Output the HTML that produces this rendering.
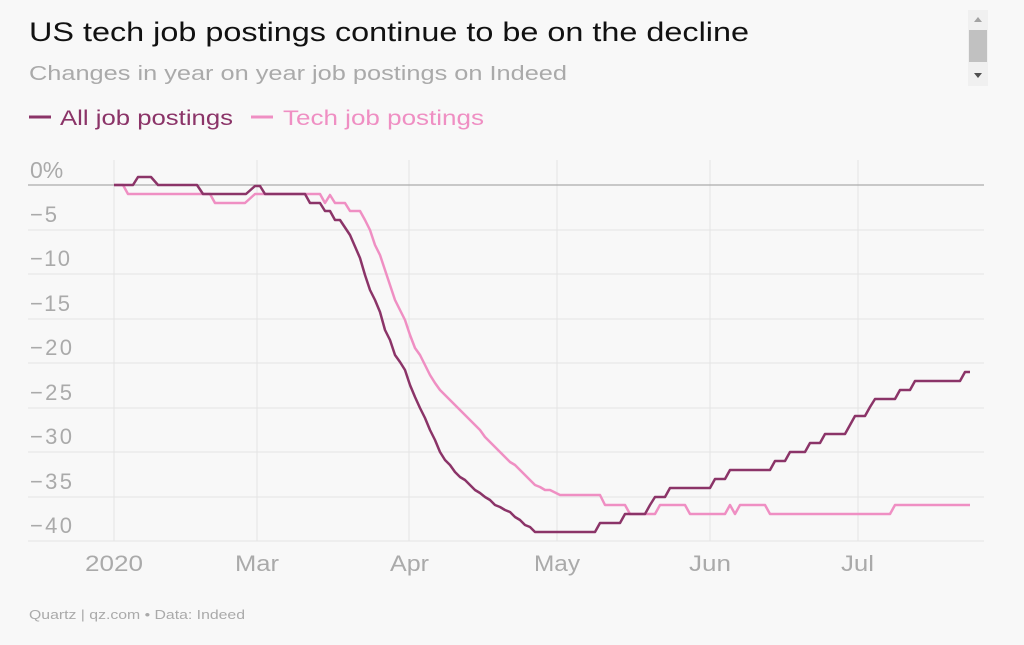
<!DOCTYPE html>
<html><head><meta charset="utf-8"><style>
body{margin:0;background:#f8f8f8;width:1024px;height:645px;overflow:hidden;font-family:"Liberation Sans",sans-serif;}
</style></head><body>
<svg width="1024" height="645" xmlns="http://www.w3.org/2000/svg" style="position:absolute;left:0;top:0">
<rect width="1024" height="645" fill="#f8f8f8"/>
<text x="29" y="41" font-size="27" fill="#111" textLength="720" lengthAdjust="spacingAndGlyphs">US tech job postings continue to be on the decline</text>
<text x="29" y="80" font-size="20" fill="#aaa" textLength="538" lengthAdjust="spacingAndGlyphs">Changes in year on year job postings on Indeed</text>
<line x1="29" y1="117" x2="51" y2="117" stroke="#8b3468" stroke-width="3"/>
<text x="60" y="125" font-size="21" fill="#8b3468" textLength="173" lengthAdjust="spacingAndGlyphs">All job postings</text>
<line x1="251" y1="117" x2="273" y2="117" stroke="#ef8fc3" stroke-width="3"/>
<text x="283" y="125" font-size="21" fill="#ef8fc3" textLength="201" lengthAdjust="spacingAndGlyphs">Tech job postings</text>
<rect x="968" y="10" width="20" height="76" fill="#f0f0f0"/>
<rect x="969" y="30" width="18" height="32" fill="#c1c1c1"/>
<path d="M974 22 L978 17 L982 22Z" fill="#a3a3a3"/><path d="M974 73 L978 78 L982 73Z" fill="#505050"/>
<g stroke="#e4e4e4" stroke-width="1">
<line x1="28" y1="230" x2="984" y2="230"/><line x1="28" y1="274" x2="984" y2="274"/>
<line x1="28" y1="319" x2="984" y2="319"/><line x1="28" y1="363" x2="984" y2="363"/>
<line x1="28" y1="408" x2="984" y2="408"/><line x1="28" y1="452" x2="984" y2="452"/>
<line x1="28" y1="497" x2="984" y2="497"/><line x1="28" y1="541" x2="984" y2="541"/>
<line x1="114" y1="160" x2="114" y2="541"/><line x1="257" y1="160" x2="257" y2="541"/>
<line x1="409" y1="160" x2="409" y2="541"/><line x1="557" y1="160" x2="557" y2="541"/>
<line x1="710" y1="160" x2="710" y2="541"/><line x1="858" y1="160" x2="858" y2="541"/>
</g>
<line x1="28" y1="185" x2="984" y2="185" stroke="#999" stroke-width="1"/>
<g font-size="22" fill="#aaa" lengthAdjust="spacingAndGlyphs">
<text x="30" y="178" font-size="23">0%</text><text x="30" y="222" textLength="27">−5</text><text x="30" y="266" textLength="40">−10</text>
<text x="30" y="311" textLength="40">−15</text><text x="30" y="355" textLength="42">−20</text><text x="30" y="400" textLength="42">−25</text>
<text x="30" y="444" textLength="42">−30</text><text x="30" y="489" textLength="42">−35</text><text x="30" y="533" textLength="42">−40</text>
</g>
<g font-size="22" fill="#aaa">
<text x="85" y="571" textLength="58" lengthAdjust="spacingAndGlyphs">2020</text>
<text x="235" y="571" textLength="44" lengthAdjust="spacingAndGlyphs">Mar</text>
<text x="390" y="571" textLength="39" lengthAdjust="spacingAndGlyphs">Apr</text>
<text x="534" y="571" textLength="46" lengthAdjust="spacingAndGlyphs">May</text>
<text x="689" y="571" textLength="42" lengthAdjust="spacingAndGlyphs">Jun</text>
<text x="841" y="571" textLength="33" lengthAdjust="spacingAndGlyphs">Jul</text>
</g>
<polyline fill="none" stroke="#ef8fc3" stroke-width="2.5" stroke-linejoin="round" points="114,185 123,185 128,194 210,194 215,203 245,203 255,194 320,194 325,203 330,195 335,203 345,203 350,211 360,211 365,220 370,230 375,245 380,255 385,270 390,285 395,300 400,310 405,320 410,335 415,348 420,355 425,365 430,375 435,383 440,390 445,395 450,400 455,405 460,410 465,415 470,420 475,425 480,430 485,437 490,442 495,447 500,452 505,457 510,462 515,465 520,470 525,475 530,480 535,485 540,487 545,490 550,490 560,495 565,495 600,495 605,505 625,505 630,514 655,514 660,505 685,505 690,514 725,514 730,505 735,514 740,505 765,505 770,514 890,514 895,505 970,505"/>
<polyline fill="none" stroke="#8b3468" stroke-width="2.5" stroke-linejoin="round" points="114,185 133,185 138,177 151,177 158,185 197,185 203,194 246,194 255,186 260,186 265,194 305,194 310,203 320,203 325,211 330,211 335,220 340,220 350,235 360,258 365,275 370,290 375,300 380,312 385,330 390,340 395,355 400,362 405,370 410,385 415,397 420,408 425,418 430,430 435,440 440,452 445,460 450,465 455,472 460,477 465,480 470,485 475,490 480,493 485,497 490,500 495,505 500,507 505,510 510,512 515,517 520,520 525,525 530,527 535,532 540,532 595,532 600,523 620,523 625,514 645,514 650,505 655,497 665,497 670,488 710,488 715,479 725,479 730,470 770,470 775,461 785,461 790,452 805,452 810,443 820,443 825,434 845,434 850,425 855,416 865,416 870,407 875,399 895,399 900,390 910,390 915,381 960,381 965,372 970,372"/>
<text x="29" y="619" font-size="13" fill="#aaa" textLength="216" lengthAdjust="spacingAndGlyphs">Quartz | qz.com • Data: Indeed</text>
</svg>
</body></html>
